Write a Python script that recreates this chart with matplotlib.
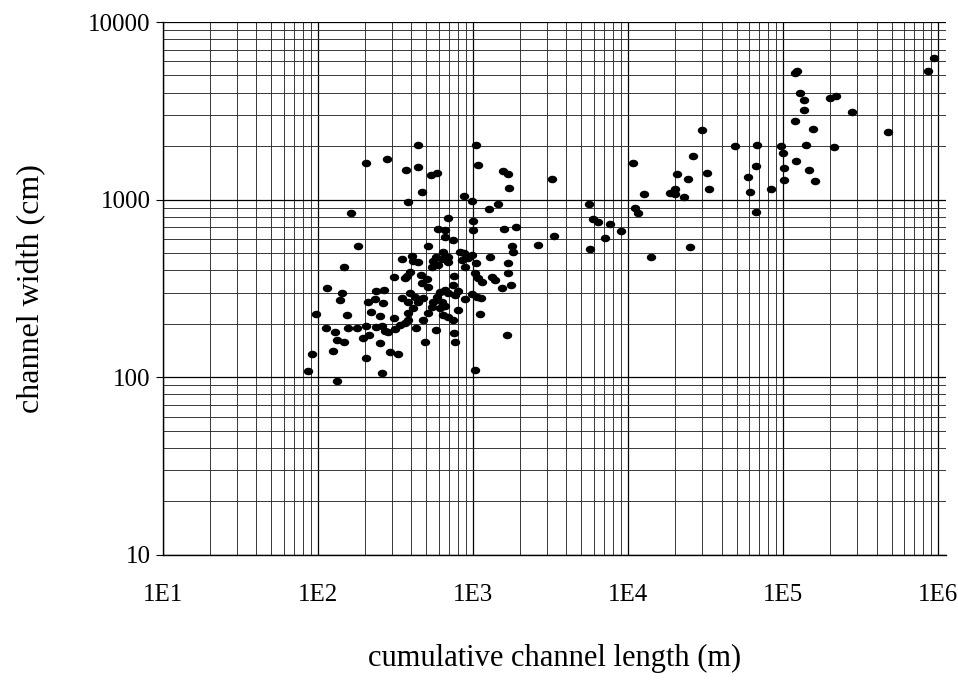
import numpy as np
import matplotlib.pyplot as plt
from matplotlib.ticker import FixedLocator, NullFormatter

# cumulative channel length (m) and channel width (cm)
length_m = [
    204, 279, 163, 181, 147, 114, 143, 139, 97, 154, 113, 129, 156, 179, 204,
    237, 259, 271, 314, 213, 195, 133, 147, 251, 283, 125, 91, 291, 328, 204,
    86, 259, 133, 237, 267, 210, 233, 263, 220, 251, 309, 309, 348, 348, 338,
    370, 442, 1046, 442, 536, 586, 1077, 1562, 1682, 1707, 469, 381, 875, 985,
    1450, 1268, 690, 1000, 1000, 595, 660, 1585, 1894, 660, 743, 513, 1785,
    1812, 641, 825, 875, 985, 404, 577, 690, 1287, 364, 410, 442, 552, 631,
    690, 849, 929, 1046, 1682, 544, 595, 888, 1682, 392, 375, 462, 505, 513,
    469, 754, 1030, 1077, 1143, 1326, 1387, 1539, 1759, 743, 613, 660, 690,
    765, 800, 392, 423, 381, 442, 476, 586, 552, 631, 660, 985, 1061, 888,
    1126, 800, 410, 381, 381, 364, 513, 476, 544, 613, 641, 690, 743, 1109,
    429, 577, 754, 490, 765, 1657, 1030,
    3234, 3331, 2627, 5604, 5947, 6405, 7654, 9013, 7107, 5688, 10770, 11090,
    11600, 12680, 14070,
    942000, 862000, 123000, 119500, 128700, 136600, 201000, 219800, 136600,
    278700, 119500, 156200, 30000, 476000, 49000, 68000, 97100, 100000,
    140700, 213300, 26270, 67000, 101500, 121300, 147200, 160900, 59470,
    101500, 20710, 32340, 24380, 20100, 18670, 20100, 33310, 22980, 61270,
    83700, 67000, 25120,
]
width_cm = [
    1610, 1690, 842, 549, 418, 319, 299, 273, 227, 224, 190, 180, 190, 190, 195,
    192, 195, 182, 187, 173, 167, 162, 158, 156, 180, 141, 135, 139, 135, 129,
    109, 106, 95, 306, 310, 266, 276, 262, 233, 222, 216, 367, 464, 280, 197,
    1470, 2030, 2030, 1530, 1380, 1410, 1570, 1450, 1390, 1160, 1100, 971, 1050,
    983, 946, 887, 788, 759, 675, 684, 675, 684, 702, 617, 593, 549, 549,
    508, 508, 508, 501, 488, 482, 476, 476, 476, 363, 452, 446, 452, 464,
    446, 458, 470, 440, 440, 418, 429, 418, 387, 392, 372, 377, 358, 323,
    340, 372, 387, 363, 344, 367, 353, 319, 331, 331, 302, 310, 299,
    291, 306, 299, 283, 266, 266, 280, 283, 266, 266, 252, 295, 283, 276,
    280, 240, 246, 230, 210, 202, 230, 210, 249, 246, 224, 219, 210, 227,
    190, 185, 178, 158, 158, 173, 110,
    1310, 625, 556, 946, 778, 749, 730, 667, 609, 528, 1610, 898,
    842, 1077, 476,
    6270, 5280, 5280, 5160, 3990, 3640, 3735, 3830, 3200,
    3100, 2770, 2500, 2470, 2400, 2000, 2030, 2000, 1830,
    2030, 1980, 1760, 1550, 1510, 1660, 1470, 1270, 1340,
    1290, 1390, 1410, 1310, 1150, 1090, 1077, 1150, 1036, 1105,
    1150, 853, 542,
]
x_ticks = [1e1, 1e2, 1e3, 1e4, 1e5, 1e6]
x_ticklabels = ['1E1', '1E2', '1E3', '1E4', '1E5', '1E6']
y_ticks = [10, 100, 1000, 10000]
y_ticklabels = ['10', '100', '1000', '10000']

plt.rcParams['font.family'] = ['Liberation Serif', 'DejaVu Serif']

fig = plt.figure(figsize=(9.58, 6.80), dpi=100)
ax = fig.add_axes([0.170, 0.184, 0.8175, 0.7836])

ax.set_xscale('log')
ax.set_yscale('log')
ax.set_xlim(10, 1.12e6)
ax.set_ylim(10, 10000)

# slightly flattened dots like the scan
t = np.linspace(0, 2 * np.pi, 40)
dot = list(zip(1.25 * np.cos(t), np.sin(t)))
ax.scatter(length_m, width_cm, marker=dot, s=46, color='black',
           linewidths=0, zorder=3)

minor = [m * 10.0 ** e for e in range(1, 6) for m in range(2, 10)]
ax.xaxis.set_minor_locator(FixedLocator(minor))
ax.yaxis.set_minor_locator(FixedLocator([m * 10.0 ** e for e in range(1, 4) for m in range(2, 10)]))
ax.xaxis.set_minor_formatter(NullFormatter())
ax.yaxis.set_minor_formatter(NullFormatter())

ax.grid(True, which='major', color='black', lw=0.9, zorder=1)
ax.grid(True, which='minor', color='#2a2a2a', lw=0.65, zorder=1)

ax.set_xticks(x_ticks)
ax.set_xticklabels(x_ticklabels)
ax.set_yticks(y_ticks)
ax.set_yticklabels(y_ticklabels)
ax.tick_params(axis='x', which='both', length=0, pad=21, labelsize=18)
ax.tick_params(axis='y', which='major', length=5, width=0.8, pad=4, labelsize=18)
ax.tick_params(axis='y', which='minor', length=0)

for side in ['top', 'right']:
    ax.spines[side].set_visible(False)
ax.spines['left'].set_linewidth(1.0)
ax.spines['bottom'].set_linewidth(1.0)

ax.set_xlabel('cumulative channel length (m)', fontsize=22, labelpad=27)
ax.set_ylabel('channel width (cm)', fontsize=23, labelpad=30)

plt.savefig('out.png', dpi=100)
